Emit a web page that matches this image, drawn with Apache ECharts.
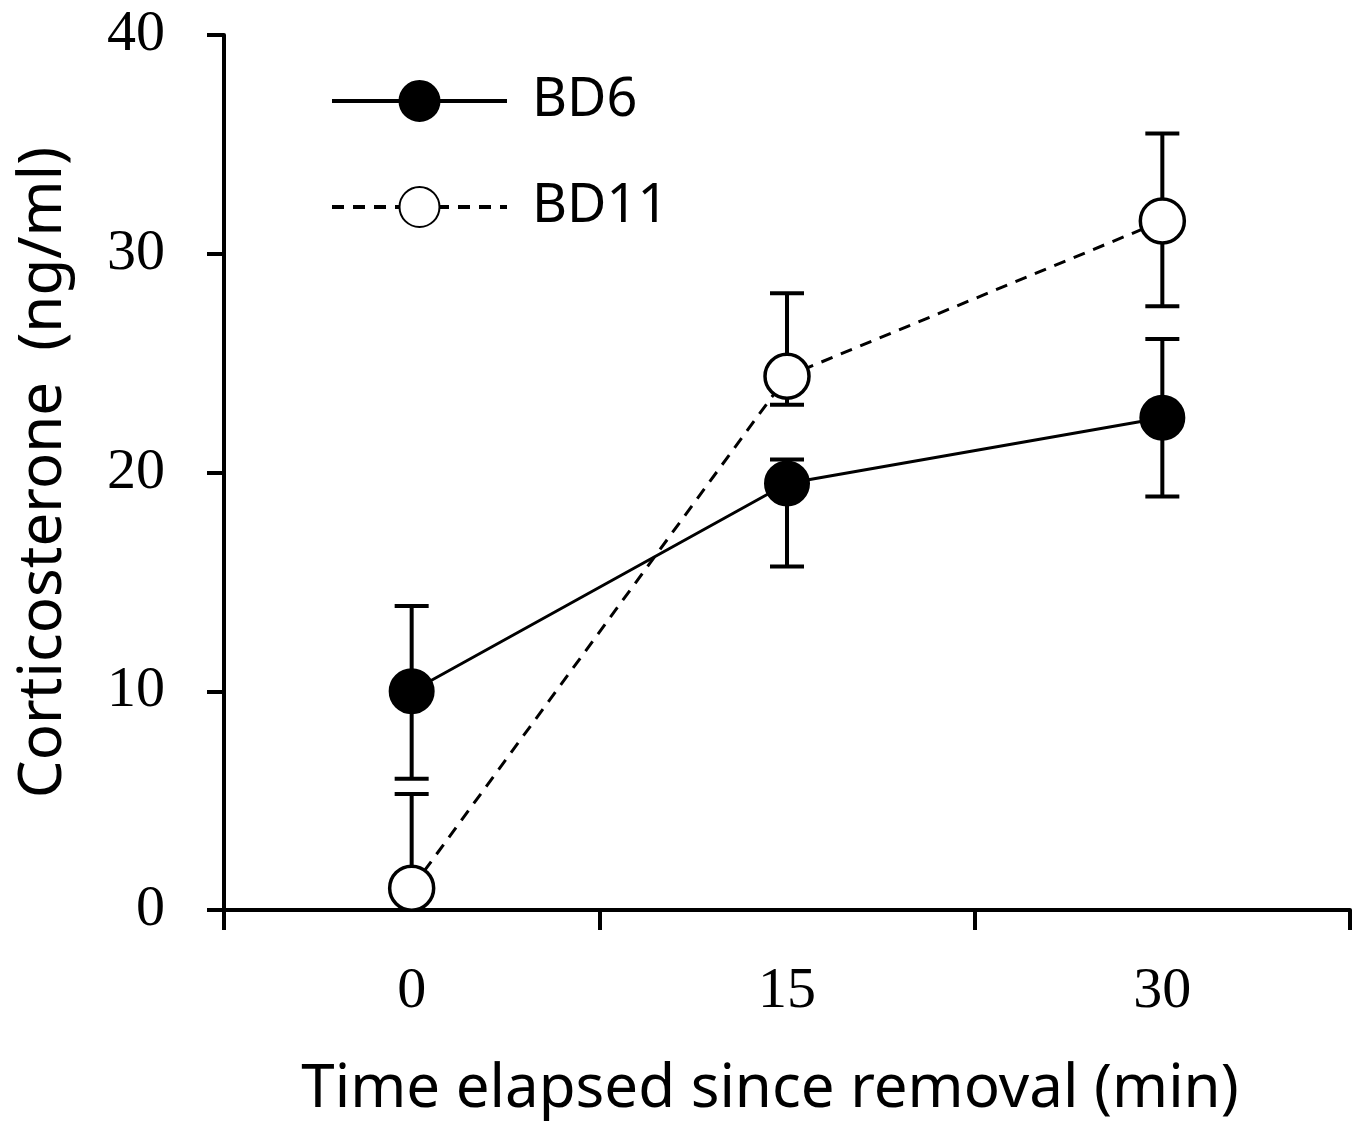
<!DOCTYPE html>
<html>
<head>
<meta charset="utf-8">
<script src="https://cdn.jsdelivr.net/npm/echarts@6/dist/echarts.min.js"></script>
<style>
  html, body { margin: 0; padding: 0; background: #fff; }
  #chart { width: 1363px; height: 1127px; }
</style>
</head>
<body>
<div id="chart"></div>
<script>
// time points (min)
var categories = ['0', '15', '30'];

// BD6 (filled circles, solid line)
var bd6Mean = [10.0, 19.5, 22.5];
var bd6High = [13.9, 20.6, 26.1];
var bd6Low = [6.0, 15.7, 18.9];

// BD11 (open circles, dashed line)
var bd11Mean = [1.0, 24.4, 31.5];
var bd11High = [5.3, 28.2, 35.5];
var bd11Low = [-3.3, 23.1, 27.6];

function errData(high, low) {
    return high.map(function (h, i) { return [i, h, low[i]]; });
}

function renderErr(params, api) {
    var top = api.coord([api.value(0), api.value(1)]);
    var bot = api.coord([api.value(0), api.value(2)]);
    var half = 17;
    var st = { stroke: '#000', lineWidth: 4 };
    return {
        type: 'group',
        children: [
            { type: 'line', shape: { x1: top[0], y1: top[1], x2: bot[0], y2: bot[1] }, style: st },
            { type: 'line', shape: { x1: top[0] - half, y1: top[1], x2: top[0] + half, y2: top[1] }, style: st },
            { type: 'line', shape: { x1: bot[0] - half, y1: bot[1], x2: bot[0] + half, y2: bot[1] }, style: st }
        ]
    };
}

var chart = echarts.init(document.getElementById('chart'));
chart.setOption({
    animation: false,
    backgroundColor: '#fff',
    textStyle: { fontFamily: 'Noto Sans', color: '#000' },
    grid: { left: 224, right: 13, top: 35, bottom: 217 },
    legend: {
        orient: 'vertical',
        left: 330,
        top: 74,
        padding: 0,
        itemWidth: 175,
        itemHeight: 50,
        itemGap: 52,
        data: ['BD6', 'BD11'],
        lineStyle: { width: 4 },
        textStyle: { fontSize: 54, color: '#000', padding: [0, 0, 0, 20] }
    },
    xAxis: {
        type: 'category',
        data: categories,
        boundaryGap: true,
        name: 'Time elapsed since removal (min)',
        nameLocation: 'middle',
        nameGap: 150,
        nameTextStyle: { fontSize: 60, color: '#000', padding: [0, 34, 0, 0], verticalAlign: 'top' },
        axisLine: { lineStyle: { color: '#000', width: 4 } },
        axisTick: { show: true, length: 20, lineStyle: { color: '#000', width: 4 } },
        axisLabel: { fontSize: 58, fontFamily: 'Liberation Serif', color: '#000', margin: 53 },
        splitLine: { show: false }
    },
    yAxis: {
        type: 'value',
        min: 0,
        max: 40,
        interval: 10,
        name: 'Corticosterone  (ng/ml)',
        nameLocation: 'middle',
        nameGap: 150,
        nameTextStyle: { fontSize: 60, color: '#000' },
        axisLine: { show: true, lineStyle: { color: '#000', width: 4 } },
        axisTick: { show: true, length: 17, lineStyle: { color: '#000', width: 4 } },
        axisLabel: { fontSize: 58, fontFamily: 'Liberation Serif', color: '#000', margin: 59 },
        splitLine: { show: false }
    },
    series: [
        {
            name: 'BD6 error',
            type: 'custom',
            renderItem: renderErr,
            data: errData(bd6High, bd6Low),
            clip: true,
            z: 1
        },
        {
            name: 'BD11 error',
            type: 'custom',
            renderItem: renderErr,
            data: errData(bd11High, bd11Low),
            clip: true,
            z: 1
        },
        {
            name: 'BD6',
            type: 'line',
            data: bd6Mean,
            symbol: 'circle',
            symbolSize: 44,
            showAllSymbol: true,
            lineStyle: { color: '#000', width: 3, type: 'solid' },
            itemStyle: { color: '#000', borderColor: '#000', borderWidth: 2 },
            z: 3
        },
        {
            name: 'BD11',
            type: 'line',
            data: bd11Mean,
            symbol: 'circle',
            symbolSize: 44,
            showAllSymbol: true,
            lineStyle: { color: '#000', width: 3, type: [12, 9] },
            itemStyle: { color: '#fff', borderColor: '#000', borderWidth: 3.5 },
            z: 4
        }
    ]
});
</script>
</body>
</html>
